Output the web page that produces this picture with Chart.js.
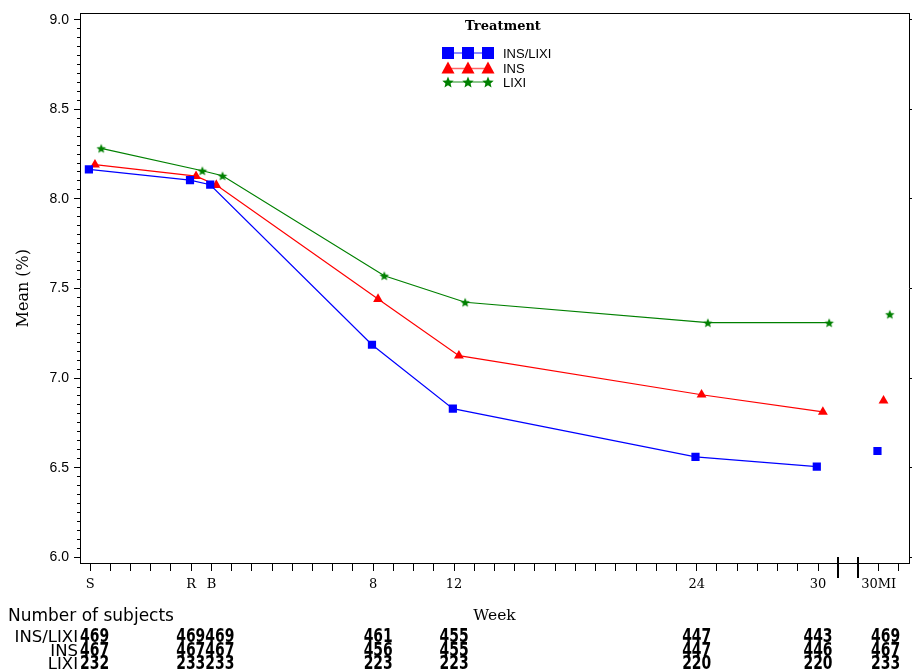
<!DOCTYPE html>
<html><head><meta charset="utf-8">
<script src="https://cdn.jsdelivr.net/npm/chart.js@4.4.1/dist/chart.umd.min.js"></script>
<style>html,body{margin:0;padding:0;background:#fff;}canvas{display:block;}</style>
</head><body>
<canvas id="c" width="912" height="670"></canvas>
<script>
// ---- data ----
const visitLabels = ['S', 'R', 'B', '8', '12', '24', '30', '30MI'];
const visitWeeks  = [-6, -1, 0, 8, 12, 24, 30, 33];
const seriesNames = ['INS/LIXI', 'INS', 'LIXI'];
const meanInsLixi = [8.165, 8.105, 8.079, 7.186, 6.829, 6.560, 6.506, 6.593];
const meanIns     = [8.191, 8.127, 8.077, 7.441, 7.125, 6.907, 6.811, 6.874];
const meanLixi    = [8.282, 8.157, 8.129, 7.571, 7.423, 7.309, 7.309, 7.356];
const nInsLixi = [469, 469, 469, 461, 455, 447, 443, 469];
const nIns     = [467, 467, 467, 456, 455, 447, 446, 467];
const nLixi    = [232, 233, 233, 223, 223, 220, 220, 233];
const yMajorTicks = [6.0, 6.5, 7.0, 7.5, 8.0, 8.5, 9.0];
const breakWeeks = [31, 32];

// ---- styling / layout ----
const colors = ['#0000ff', '#ff0000', '#008000'];
const dodge = [-0.06, 0.24, 0.55];
const countShiftPx = [0, 4, 4, 5, 0, 0, 0, 7];
const Y_MIN = 5.968, Y_MAX = 9.035, X_MIN = -6.5, X_MAX = 34.5;

function starCanvas(r, color) {
  const s = Math.ceil(r * 2 + 2);
  const c = document.createElement('canvas');
  c.width = s; c.height = s;
  const g = c.getContext('2d');
  g.fillStyle = color;
  g.beginPath();
  for (let k = 0; k < 10; k++) {
    const rr = k % 2 === 0 ? r : r * 0.45;
    const a = -Math.PI / 2 + k * Math.PI / 5;
    const px = s / 2 + rr * Math.cos(a), py = s / 2 + r * 0.1 + rr * Math.sin(a);
    if (k === 0) g.moveTo(px, py); else g.lineTo(px, py);
  }
  g.closePath(); g.fill();
  return c;
}
const starSmall = starCanvas(5, colors[2]);
const starBig = starCanvas(6, colors[2]);

const allMeans = [meanInsLixi, meanIns, meanLixi];
const styles = ['rect', 'triangle', starSmall];
const radii = [5.8, 5.7, 5];

const datasets = allMeans.map((vals, s) => ({
  label: seriesNames[s],
  data: visitWeeks.map((w, i) => ({ x: w + dodge[s], y: vals[i] })),
  showLine: true,
  borderColor: colors[s],
  backgroundColor: colors[s],
  borderWidth: 1.2,
  pointStyle: styles[s],
  pointRadius: radii[s],
  pointBorderWidth: 0,
  pointBackgroundColor: colors[s],
  pointBorderColor: colors[s],
  segment: { borderColor: ctx => (ctx.p1DataIndex === visitWeeks.length - 1 ? 'rgba(0,0,0,0)' : colors[s]) }
}));

const labelMap = {};
visitWeeks.forEach((w, i) => { labelMap[w] = visitLabels[i]; });

function setTicks(vals) { return scale => { scale.ticks = vals.map(v => ({ value: v })); }; }
const weekTicks = [];
for (let w = -6; w <= 34; w++) if (!breakWeeks.includes(w)) weekTicks.push(w);
const yMinorTicks = [];
for (let k = 0; k <= 60; k++) yMinorTicks.push(+(6 + k * 0.05).toFixed(2));

function drawMarker(ctx, s, x, y) {
  ctx.fillStyle = colors[s];
  if (s === 0) { ctx.fillRect(x - 6, y - 6, 12, 12); }
  else if (s === 1) {
    ctx.beginPath(); ctx.moveTo(x, y - 7); ctx.lineTo(x + 6.5, y + 5); ctx.lineTo(x - 6.5, y + 5); ctx.closePath(); ctx.fill();
  } else { ctx.drawImage(starBig, x - starBig.width / 2, y - starBig.height / 2); }
}

const decorPlugin = {
  id: 'decor',
  afterDraw(chart) {
    const ctx = chart.ctx, xs = chart.scales.x, area = chart.chartArea;
    ctx.save();
    // axis break marks
    ctx.strokeStyle = '#000'; ctx.lineWidth = 2;
    breakWeeks.forEach(w => {
      const px = Math.round(xs.getPixelForValue(w));
      ctx.beginPath(); ctx.moveTo(px, area.bottom - 6); ctx.lineTo(px, area.bottom + 15); ctx.stroke();
    });
    // legend
    ctx.fillStyle = '#000';
    ctx.font = 'bold 13px "DejaVu Serif"'; ctx.textAlign = 'center'; ctx.textBaseline = 'middle';
    ctx.fillText('Treatment', 503, 27);
    const rowsY = [53, 68.5, 82];
    const mx = [448, 468, 488];
    seriesNames.forEach((name, s) => {
      const y = rowsY[s];
      ctx.strokeStyle = colors[s]; ctx.lineWidth = 1.5; ctx.globalAlpha = 0.6;
      ctx.beginPath(); ctx.moveTo(mx[0], y); ctx.lineTo(mx[2], y); ctx.stroke();
      ctx.globalAlpha = 1;
      mx.forEach(x => drawMarker(ctx, s, x, y));
      ctx.fillStyle = '#000'; ctx.font = '13px "Liberation Sans"'; ctx.textAlign = 'left';
      ctx.fillText(name, 503, y + 1);
    });
    // subject table
    ctx.textBaseline = 'alphabetic';
    ctx.font = '17px "DejaVu Sans"'; ctx.textAlign = 'left';
    ctx.fillText('Number of subjects', 8, 621);
    const counts = [nInsLixi, nIns, nLixi];
    const baseY = [642, 655.5, 669];
    const sx = 0.82;
    const numFont = 'bold 17px "DejaVu Sans"';
    counts.forEach((arr, r) => {
      ctx.font = '16.5px "DejaVu Sans"'; ctx.textAlign = 'right';
      ctx.fillText(seriesNames[r], 78, baseY[r]);
      ctx.font = numFont; ctx.textAlign = 'center';
      const w = arr.map(v => ctx.measureText(String(v)).width * sx);
      const cx = visitWeeks.map((v, i) => xs.getPixelForValue(v) + countShiftPx[i]);
      cx[0] = Math.max(cx[0], area.left + w[0] / 2);
      for (let i = 1; i < cx.length; i++) {
        const gap = (cx[i] - w[i] / 2) - (cx[i - 1] + w[i - 1] / 2);
        if (gap < 0) { cx[i - 1] += gap / 2; cx[i] -= gap / 2; }
      }
      arr.forEach((v, i) => {
        ctx.save(); ctx.translate(cx[i], baseY[r]); ctx.scale(sx, 1.12);
        ctx.fillText(String(v), 0, 0); ctx.restore();
      });
    });
    ctx.restore();
  }
};

const blackGrid = (len) => ({ display: true, drawOnChartArea: false, drawTicks: true, tickLength: len, color: '#000', tickColor: '#000', lineWidth: 1 });

new Chart(document.getElementById('c'), {
  type: 'scatter',
  data: { datasets },
  plugins: [decorPlugin],
  options: {
    responsive: false,
    animation: false,
    devicePixelRatio: 1,
    layout: { autoPadding: false, padding: { top: 13, right: 0, bottom: 45, left: 0 } },
    plugins: { legend: { display: false }, tooltip: { enabled: false } },
    scales: {
      x: {
        type: 'linear', position: 'bottom', min: X_MIN, max: X_MAX,
        afterBuildTicks: setTicks(weekTicks),
        afterFit: s => { s.height = 62; s.paddingLeft = 0; s.paddingRight = 0; },
        grid: blackGrid(8),
        border: { display: true, color: '#000', width: 1 },
        ticks: {
          autoSkip: false, maxRotation: 0, minRotation: 0, padding: 6, color: '#000',
          font: { family: '"DejaVu Serif"', size: 13 },
          callback: v => (labelMap[v] !== undefined ? labelMap[v] : '')
        },
        title: { display: true, text: 'Week', color: '#000', font: { family: '"DejaVu Serif"', size: 15.5 }, padding: 0 }
      },
      xTop: {
        type: 'linear', position: 'top', min: X_MIN, max: X_MAX,
        afterFit: s => { s.height = 0; s.paddingLeft = 0; s.paddingRight = 0; },
        grid: { display: false }, ticks: { display: false },
        border: { display: true, color: '#000', width: 1 }
      },
      y: {
        type: 'linear', position: 'left', weight: 1, min: Y_MIN, max: Y_MAX,
        afterBuildTicks: setTicks(yMajorTicks),
        afterFit: s => { s.width = 80; },
        grid: blackGrid(6),
        border: { display: true, color: '#000', width: 1 },
        ticks: { padding: 5, color: '#000', font: { family: '"Liberation Sans"', size: 14 }, callback: v => Number(v).toFixed(1) },
        title: { display: true, text: 'Mean (%)', color: '#000', font: { family: '"DejaVu Serif"', size: 16 }, padding: { top: 14, bottom: 0 } }
      },
      yMinor: {
        type: 'linear', position: 'left', weight: 0, min: Y_MIN, max: Y_MAX,
        afterBuildTicks: setTicks(yMinorTicks),
        afterFit: s => { s.width = 0; },
        grid: blackGrid(3),
        border: { display: false },
        ticks: { display: false }
      },
      yRight: {
        type: 'linear', position: 'right', min: Y_MIN, max: Y_MAX,
        afterBuildTicks: setTicks(yMajorTicks),
        afterFit: s => { s.width = 3; },
        grid: blackGrid(3),
        border: { display: true, color: '#000', width: 1 },
        ticks: { display: false }
      }
    }
  }
});
</script>
</body></html>
